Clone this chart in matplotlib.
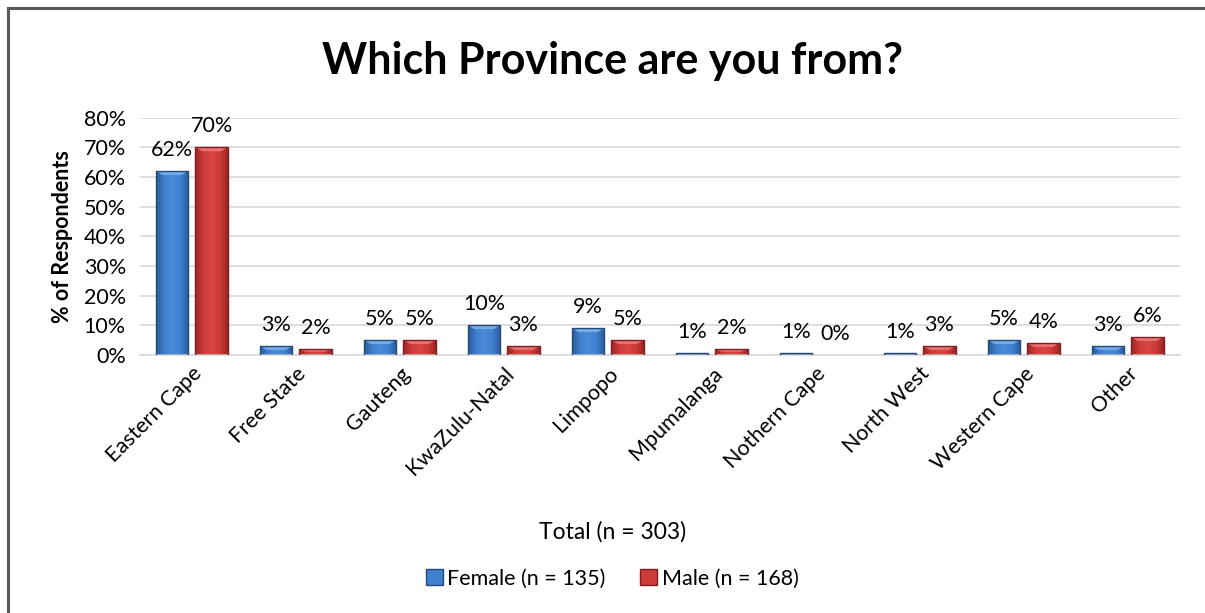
import numpy as np
import matplotlib.pyplot as plt
from matplotlib.colors import LinearSegmentedColormap
from matplotlib.patches import Rectangle
from matplotlib.lines import Line2D

plt.rcParams['font.family'] = ['Lato', 'DejaVu Sans']

provinces = ['Eastern Cape', 'Free State', 'Gauteng', 'KwaZulu-Natal', 'Limpopo',
             'Mpumalanga', 'Nothern Cape', 'North West', 'Western Cape', 'Other']
female = [62, 3, 5, 10, 9, 1, 1, 1, 5, 3]
male = [70, 2, 5, 3, 5, 2, 1, 3, 4, 6]
female_label = [62, 3, 5, 10, 9, 1, 1, 1, 5, 3]
male_label = [70, 2, 5, 3, 5, 2, 0, 3, 4, 6]
# drawn heights for the near-zero bars
female[5], female[6], female[7] = 0.7, 0.7, 0.7
male[6] = 0.0

blue_cmap = LinearSegmentedColormap.from_list('b', ['#2a5a98', '#3f80cf', '#4a8ad8', '#3f80cf', '#2a5a98'])
red_cmap = LinearSegmentedColormap.from_list('r', ['#9c2626', '#cf3b3b', '#d84646', '#cf3b3b', '#9c2626'])

fig = plt.figure(figsize=(12.05, 6.13), dpi=100)
ax = fig.add_axes([0.116, 0.421, 0.863, 0.387])

x = np.arange(len(provinces))
w = 0.31
off = 0.19
grad = np.linspace(0, 1, 64).reshape(1, -1)


def shade(bars, cmap, edge, light):
    for b in bars:
        h = b.get_height()
        if h <= 0:
            continue
        x0, w0 = b.get_x(), b.get_width()
        im = ax.imshow(grad, cmap=cmap, extent=[x0, x0 + w0, 0, h], aspect='auto',
                       zorder=2, interpolation='bicubic')
        im.set_clip_path(b)
        # bevel highlight at the top of the bar
        bh = min(h * 0.45, 1.3)
        ax.fill([x0 + w0 * 0.04, x0 + w0 * 0.96, x0 + w0 * 0.8, x0 + w0 * 0.2],
                [h - 0.2, h - 0.2, h - bh, h - bh], color=light, alpha=0.85,
                lw=0, zorder=3)
        ax.add_patch(Rectangle((x0, 0), w0, h, fill=False, ec=edge, lw=1.0, zorder=4))


fb = ax.bar(x - off, female, w, color='none', zorder=2)
mb = ax.bar(x + off, male, w, color='none', zorder=2)
shade(fb, blue_cmap, '#24497a', '#7db4ee')
shade(mb, red_cmap, '#7e1e1e', '#ee7b7b')

for i in range(len(provinces)):
    ax.annotate(f'{female_label[i]}%', (x[i] - off, female[i]), xytext=(0, 8),
                textcoords='offset points', ha='center', va='bottom', fontsize=15.5)
    ax.annotate(f'{male_label[i]}%', (x[i] + off, male[i]), xytext=(0, 8),
                textcoords='offset points', ha='center', va='bottom', fontsize=15.5)

ax.set_xlim(-0.5, len(provinces) - 0.5)
ax.set_ylim(0, 80)
ax.set_yticks(range(0, 81, 10))
ax.set_yticklabels([f'{v}%' for v in range(0, 81, 10)], fontsize=15.5)
ax.set_xticks(x)
ax.set_xticklabels(provinces, rotation=45, ha='right', rotation_mode='anchor', fontsize=15.5)
ax.tick_params(axis='y', length=0, pad=10)
ax.tick_params(axis='x', length=0, pad=6)
ax.grid(axis='y', color='#d9d9d9', lw=1.2, zorder=0)
for s in ['top', 'right', 'left']:
    ax.spines[s].set_visible(False)
ax.spines['bottom'].set_color('#d9d9d9')
ax.spines['bottom'].set_linewidth(1.2)
ax.set_ylabel('% of Respondents', fontsize=15.5, fontweight='bold', labelpad=8)

fig.text(0.508, 0.9, 'Which Province are you from?', ha='center', va='center',
         fontsize=31, fontweight='bold')
fig.text(0.508, 0.132, 'Total (n = 303)', ha='center', va='center', fontsize=16.5)

handles = [Rectangle((0, 0), 1, 1, fc='#3f80cf', ec='#24497a'),
           Rectangle((0, 0), 1, 1, fc='#cf3b3b', ec='#7e1e1e')]
fig.legend(handles, ['Female (n = 135)', 'Male (n = 168)'], loc='center',
           bbox_to_anchor=(0.508, 0.056), ncol=2, frameon=False, fontsize=15.5,
           handlelength=0.8, handleheight=0.8, handletextpad=0.2, columnspacing=1.6)

# chart border
fig.add_artist(Line2D([0.0066, 0.0066], [0, 0.987], color='#595959', lw=2.2))
fig.add_artist(Line2D([0.0066, 1.0], [0.987, 0.987], color='#595959', lw=2.2))

fig.savefig('out.png', dpi=100)
